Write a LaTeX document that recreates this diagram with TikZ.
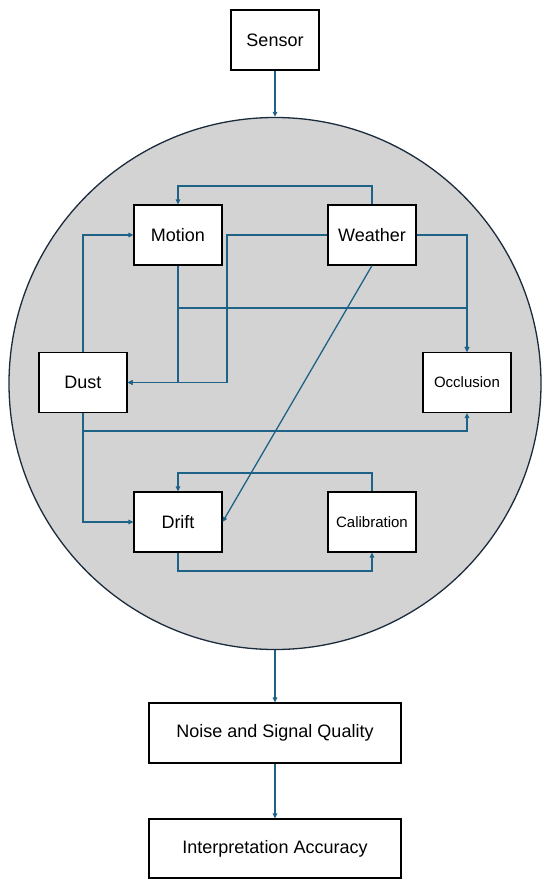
\documentclass[tikz,border=0pt]{standalone}
\usepackage{fontspec}
\setmainfont{Liberation Sans}
\usetikzlibrary{arrows.meta,calc}
\definecolor{arrowc}{HTML}{1F6287}
\definecolor{circfill}{HTML}{D3D3D3}
\definecolor{circline}{HTML}{1C2B3C}
\begin{document}
\begin{tikzpicture}[x=1pt,y=-1pt,
 box/.style={draw=black,fill=white,line width=1.1pt,minimum width=88pt,minimum height=60pt,inner sep=0pt,font=\fontsize{18}{21}\selectfont},
 small/.style={font=\fontsize{15}{18}\selectfont},
 conn/.style={draw=arrowc,line width=1.3pt},
 arr/.style={conn,-{Triangle[length=5pt,width=4.5pt]}}]
\useasboundingbox (0,0) rectangle (550,888);
\node[circle,draw=circline,fill=circfill,line width=1.3pt,minimum size=532pt,inner sep=0pt] (ring) at (275,383.5) {};
\node[box] (sensor) at (275,40) {Sensor};
\node[box] (motion) at (178,235) {Motion};
\node[box] (weather) at (372,235) {Weather};
\node[box] (dust) at (83,382.5) {Dust};
\node[box,small] (occl) at (467,382.5) {Occlusion};
\node[box] (drift) at (178,522) {Drift};
\node[box,small] (calib) at (372,522) {Calibration};
\node[box,minimum width=252pt] (noise) at (275,733) {Noise and Signal Quality};
\node[box,minimum width=252pt,minimum height=59pt] (interp) at (275,848.5) {Interpretation Accuracy};
\coordinate (wtop) at (372,186);
\coordinate (wbend) at (227,235);
\coordinate (mbranch) at (178,308);
\coordinate (dbranch) at (83,431);
\coordinate (ctop) at (372,473);
\coordinate (dbot) at (178,571);
\draw[arr] (sensor.south) -- (ring.north);
\draw[arr] (weather.north) -- (wtop) -| (motion.north);
\draw[arr] (weather.west) -- (wbend) |- (dust.east);
\draw[arr] (motion.south) |- (dust.east);
\draw[arr] (mbranch) -| (occl.north);
\draw[arr] (weather.east) -| (occl.north);
\draw[arr] (dust.north) |- (motion.west);
\draw[arr] (dust.south) -- (dbranch) -| (occl.south);
\draw[arr] (dust.south) |- (drift.west);
\draw[arr] (weather.south) -- (drift.east);
\draw[arr] (calib.north) -- (ctop) -| (drift.north);
\draw[arr] (drift.south) -- (dbot) -| (calib.south);
\draw[arr] (ring.south) -- (noise.north);
\draw[arr] (noise.south) -- (interp.north);
\end{tikzpicture}
\end{document}
